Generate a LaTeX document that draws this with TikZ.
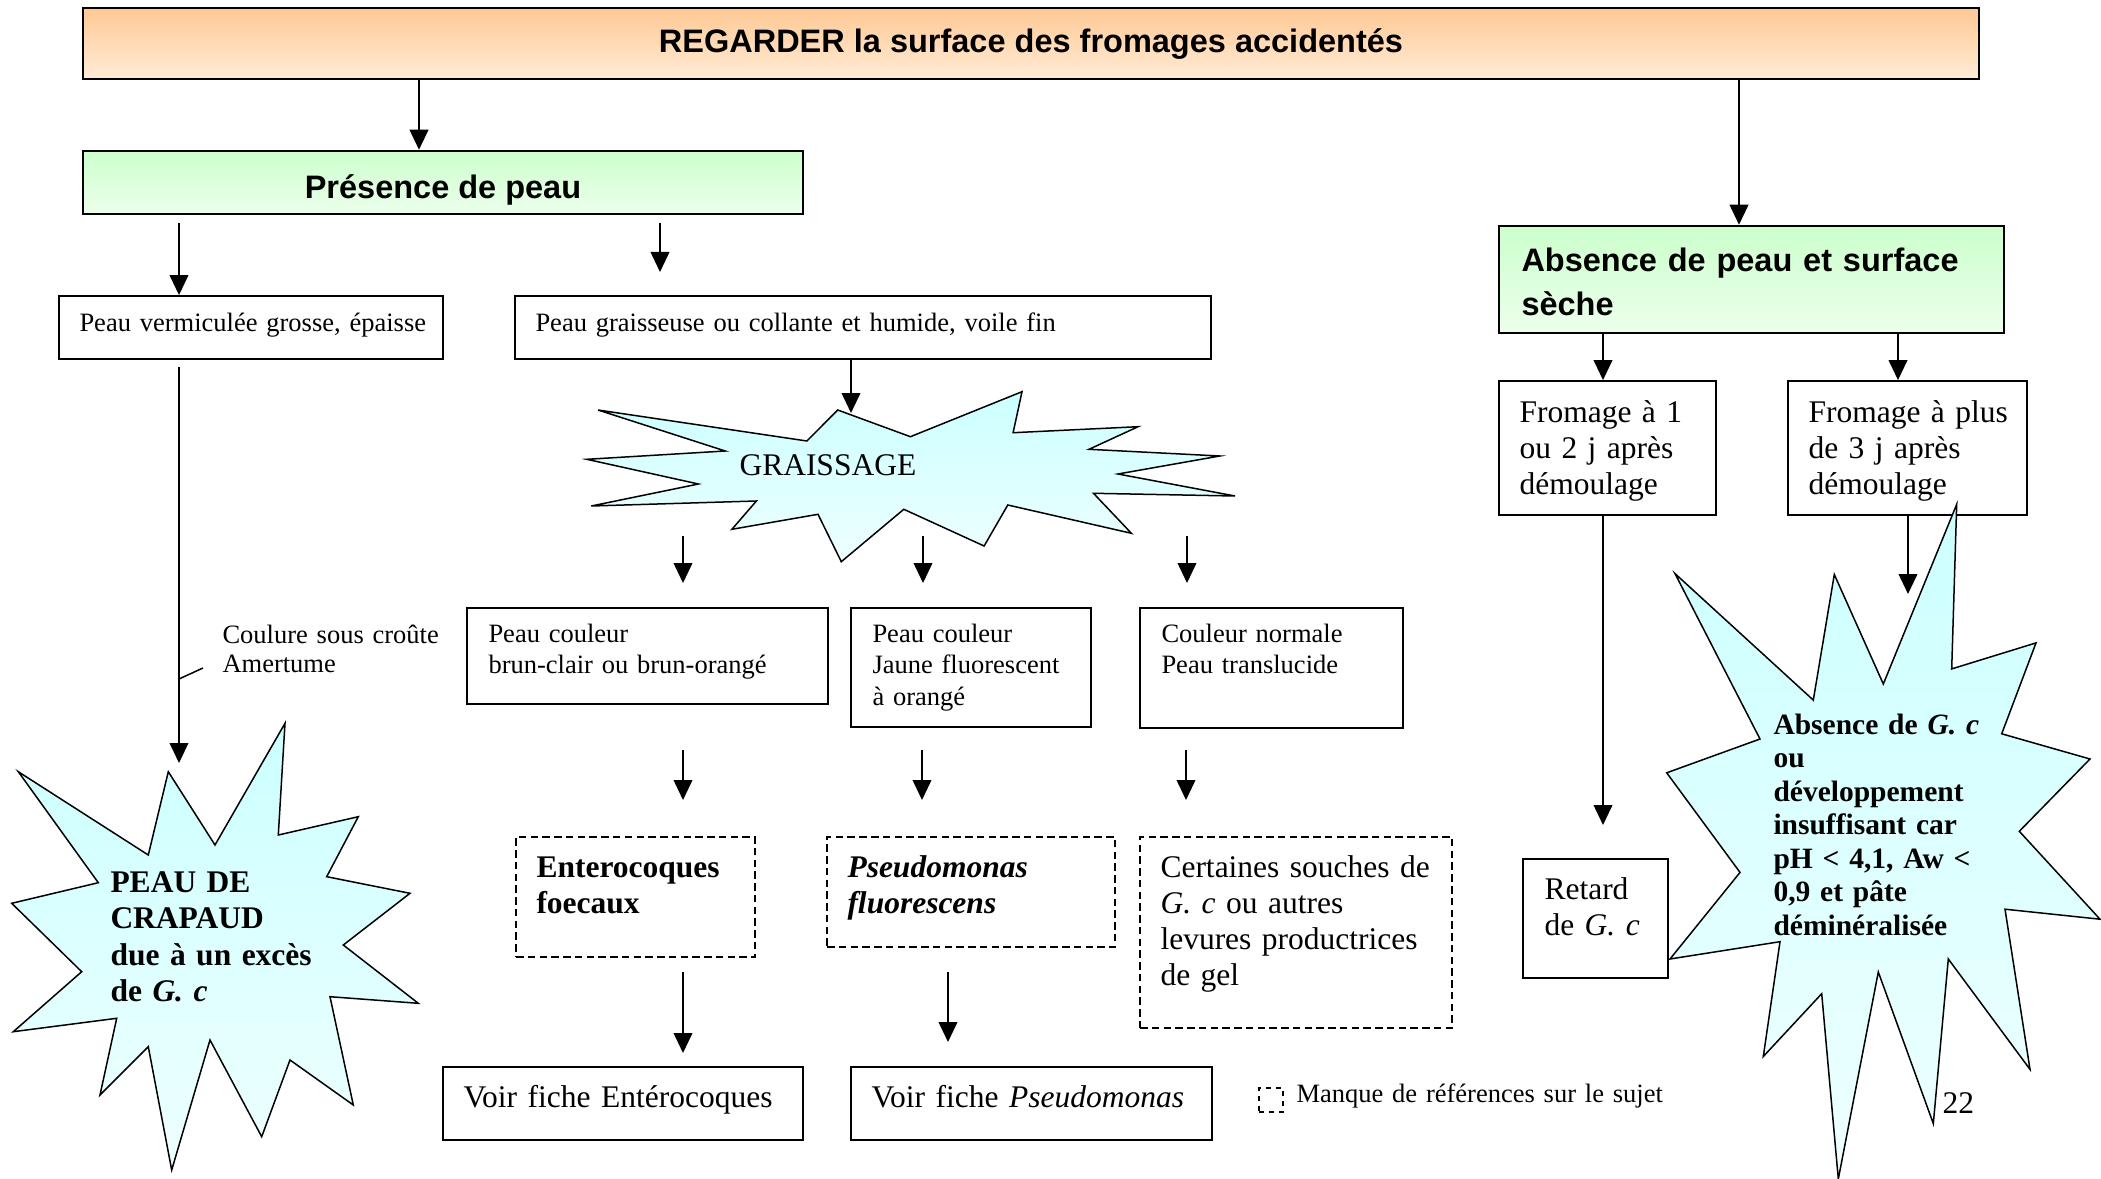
\documentclass[tikz,border=0pt]{standalone}
\usepackage{fontspec}
\setmainfont{Liberation Serif}
\newfontfamily\headfont{Liberation Sans}
\usetikzlibrary{arrows.meta,fit}
\definecolor{hdrTop}{RGB}{255,200,148}
\definecolor{hdrBot}{RGB}{255,236,214}
\definecolor{grnTop}{RGB}{204,255,204}
\definecolor{grnBot}{RGB}{236,255,236}
\definecolor{burstTop}{RGB}{204,255,255}
\definecolor{burstBot}{RGB}{238,255,255}
\begin{document}
\begin{tikzpicture}[x=0.4pt,y=-0.4pt,
  frame/.style={draw=black, line width=0.75pt, inner sep=0pt},
  dframe/.style={frame, dash pattern=on 3pt off 1.7pt},
  arr/.style={line width=0.6pt, -{Triangle[length=8pt,width=7.5pt]}},
  plain/.style={line width=0.6pt},
  burst/.style={draw=black, line width=0.6pt, line join=miter, top color=burstTop, bottom color=burstBot},
  small/.style={inner sep=0pt, anchor=base west, align=left, text width=#1, font=\fontsize{10.6}{12.6}\selectfont},
  small/.default=200pt,
  large/.style={inner sep=0pt, anchor=base west, align=left, text width=#1, font=\fontsize{12.6}{14.5}\selectfont},
  large/.default=200pt,
  headtxt/.style={inner sep=0pt, font=\headfont\bfseries\fontsize{13}{17.2}\selectfont},
]
\useasboundingbox (0,0) rectangle (2101,1179);

% ---------- boxes ----------
\node[frame, line width=1pt, top color=hdrTop, bottom color=hdrBot, fit={(83,8)(1979,79)}] (hdr) {};
\node[frame, line width=1pt, top color=grnTop, bottom color=grnBot, fit={(83,151)(803,214)}] (pres) {};
\node[frame, line width=1pt, top color=grnTop, bottom color=grnBot, fit={(1499,226)(2004,333)}] (abs) {};
\node[frame, fit={(59,296)(443,359)}] (verm) {};
\node[frame, fit={(515,296)(1211,359)}] (grais) {};
\node[frame, fit={(1499,381)(1716,515)}] (fra) {};
\node[frame, fit={(1788,381)(2027,515)}] (frb) {};
\node[frame, fit={(467,608)(828,704)}] (cola) {};
\node[frame, fit={(851,608)(1091,727)}] (colb) {};
\node[frame, fit={(1140,608)(1403,728)}] (colc) {};
\node[dframe, fit={(516,837)(755,957)}] (ent) {};
\node[dframe, fit={(827,837)(1115,947)}] (pse) {};
\node[dframe, fit={(1140,837)(1452,1028)}] (cert) {};
\node[frame, fit={(443,1067)(803,1140)}] (voire) {};
\node[frame, fit={(851,1067)(1212,1140)}] (voirp) {};
\node[frame, fit={(1523,859)(1668,978)}] (ret) {};
\node[frame, line width=0.6pt, dash pattern=on 2pt off 2pt, fit={(1259,1088)(1283,1112)}] (leg) {};

% ---------- texts in boxes ----------
\node[headtxt, anchor=base] (hdrT) at (1031,53) {REGARDER la surface des fromages accidentés};
\node[headtxt, anchor=base] (presT) at (443,199) {Présence de peau};
\node[headtxt, anchor=base west, align=left, text width=190pt] (absT) at (1521,272) {Absence de peau et surface\\sèche};
\node[small] (vermT) at (79,331) {Peau vermiculée grosse, épaisse};
\node[small=300pt] (graisT) at (535,331) {Peau graisseuse ou collante et humide, voile fin};
\node[large] (fraT) at (1519,422) {Fromage à 1\\ou 2 j après\\démoulage};
\node[large] (frbT) at (1808,422) {Fromage à plus\\de 3 j après\\démoulage};
\node[small] (colaT) at (488,642) {Peau couleur\\brun-clair ou brun-orangé};
\node[small] (colbT) at (872,642) {Peau couleur\\Jaune fluorescent\\à orangé};
\node[small] (colcT) at (1161,642) {Couleur normale\\Peau translucide};
\node[large] (entT) at (536,877) {\bfseries Enterocoques\\foecaux};
\node[large] (pseT) at (847,877) {\bfseries\itshape Pseudomonas\\fluorescens};
\node[large] (certT) at (1160,877) {Certaines souches de\\\textit{G. c} ou autres\\levures productrices\\de gel};
\node[large] (voireT) at (463,1107) {Voir fiche Entérocoques};
\node[large] (voirpT) at (871,1107) {Voir fiche \textit{Pseudomonas}};
\node[large] (retT) at (1544,899) {Retard\\de \textit{G. c}};
\node[small=150pt, font=\fontsize{10.6}{11.6}\selectfont] (coulT) at (222,643) {Coulure sous croûte\\Amertume};
\node[small] (legT) at (1296,1102) {Manque de références sur le sujet};

% ---------- connectors ----------
\coordinate (c1) at (419,0);
\coordinate (c2) at (1739,0);
\draw[arr] (hdr.south -| c1) -- (pres.north -| c1);
\draw[arr] (hdr.south -| c2) -- (abs.north -| c2);

\coordinate (p1) at (179,223);
\coordinate (p2s) at (660,223);
\coordinate (p2e) at (660,272);
\draw[arr] (p1) -- (p1 |- verm.north);
\draw[arr] (p2s) -- (p2e);

\coordinate (v1) at (179,367);
\coordinate (v2) at (179,763);
\coordinate (tickA) at (179,679);
\coordinate (tickB) at (203,668);
\draw[arr] (v1) -- (v2);
\draw[plain] (tickA) -- (tickB);

\coordinate (gx) at (851,413);
\coordinate (ga1) at (683,536); \coordinate (ga2) at (683,583);
\coordinate (gb1) at (923,536); \coordinate (gb2) at (923,583);
\coordinate (gc1) at (1187,536); \coordinate (gc2) at (1187,583);
\draw[arr] (ga1) -- (ga2);
\draw[arr] (gb1) -- (gb2);
\draw[arr] (gc1) -- (gc2);

\coordinate (ca1) at (683,750); \coordinate (ca2) at (683,800);
\coordinate (cb1) at (922,750); \coordinate (cb2) at (922,800);
\coordinate (cc1) at (1186,750); \coordinate (cc2) at (1186,800);
\draw[arr] (ca1) -- (ca2);
\draw[arr] (cb1) -- (cb2);
\draw[arr] (cc1) -- (cc2);

\coordinate (e1) at (683,972); \coordinate (e2) at (683,1053);
\coordinate (f1) at (948,972); \coordinate (f2) at (948,1042);
\draw[arr] (e1) -- (e2);
\draw[arr] (f1) -- (f2);

\coordinate (r1) at (1603,0);
\coordinate (r2) at (1898,0);
\draw[arr] (abs.south -| r1) -- (fra.north -| r1);
\draw[arr] (abs.south -| r2) -- (frb.north -| r2);
\coordinate (rt) at (1603,825);
\draw[arr] (fra.south -| r1) -- (rt);
\coordinate (s3a) at (1908,0);
\coordinate (s3t) at (1908,594);
\draw[arr] (frb.south -| s3a) -- (s3t);

% ---------- bursts ----------
\path[burst] (168.3,771.7) -- (215,845) -- (285,723.3) -- (278.3,835) -- (358.3,816.7)
  -- (326.7,876.7) -- (410,893.3) -- (343.3,945) -- (418.3,1003.3) -- (330,996.7)
  -- (353.3,1105) -- (290,1060) -- (261.7,1136.7) -- (210,1040) -- (171.7,1170)
  -- (148.3,1046.7) -- (100,1095) -- (116.7,1018.3) -- (13.3,1031.7) -- (81.7,971.7)
  -- (11.7,903.3) -- (98.3,882.7) -- (18.3,771.7) -- (148.3,855) -- cycle;

\path[burst] (837.7,410) -- (910.4,436.7) -- (1022,391.7) -- (1013.1,432.7) -- (1138.1,426.7)
  -- (1089,449.3) -- (1219.8,456) -- (1118,474) -- (1235,496) -- (1093.5,493.3)
  -- (1131.4,533.3) -- (1007.8,505) -- (984.1,546) -- (903.8,509.3) -- (841.3,561.7)
  -- (818,514.3) -- (731.9,529.3) -- (756.4,501) -- (591.3,506) -- (698.4,484)
  -- (586.8,459.3) -- (725.2,451) -- (598,410) -- (806.9,441) -- cycle;

\path[burst] (1956.7,504.3) -- (1951.7,668.9) -- (2036,642.9) -- (2001.7,733.8) -- (2090,759)
  -- (2019.3,831.3) -- (2100,919.2) -- (2005,909.2) -- (2030,1069.4) -- (1948.3,959)
  -- (1933.3,1123.6) -- (1878.3,972) -- (1838.3,1179) -- (1821.7,993.7) -- (1763.3,1056.5)
  -- (1780,941.7) -- (1670,959) -- (1740,872.4) -- (1666.7,772.8) -- (1760,739)
  -- (1675,573.6) -- (1813.3,700.1) -- (1834.3,574.5) -- (1883.3,684) -- cycle;

\draw[arr] (grais.south -| gx) -- (gx);

\node[large, font=\bfseries\fontsize{12.6}{14.6}\selectfont] (crapT) at (110,892) {PEAU DE\\CRAPAUD\\due à un excès\\de \textit{G. c}};
\node[large] (graT) at (739,475) {GRAISSAGE};
\node[large=130pt, font=\bfseries\fontsize{11.8}{13.4}\selectfont] (absGT) at (1773,734) {Absence de \textit{G. c}\\ou\\développement\\insuffisant car\\pH < 4,1, Aw <\\0,9 et pâte\\déminéralisée};
\node[large] (pgT) at (1942,1113) {22};
\end{tikzpicture}
\end{document}
